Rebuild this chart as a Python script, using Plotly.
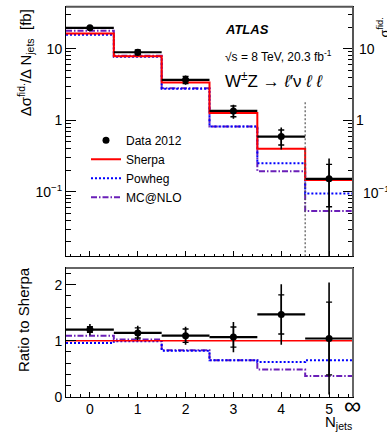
import plotly.graph_objects as go

W, H = 387, 440

# ---------------- data ----------------
bins = [0, 1, 2, 3, 4, 5]
edges = [-0.5, 0.5, 1.5, 2.5, 3.5, 4.5, 5.5]
tick_labels = ["0", "1", "2", "3", "4", "5"]

data = [19.5, 8.9, 3.67, 1.35, 0.59, 0.152]
data_stat = [0.45, 0.7, 0.42, 0.23, 0.14, 0.09]
data_tot = [0.9, 1.0, 0.55, 0.3, 0.2, 0.14]
sherpa = [16.3, 7.8, 3.37, 1.26, 0.40, 0.146]
powheg = [15.6, 7.7, 2.76, 0.82, 0.25, 0.095]
mcnlo = [17.8, 7.95, 2.8, 0.82, 0.194, 0.054]

ratio_data = [1.2, 1.14, 1.09, 1.065, 1.47, 1.04]
ratio_stat = [0.05, 0.09, 0.12, 0.18, 0.35, 0.65]
ratio_tot = [0.1, 0.13, 0.16, 0.27, 0.54, 1.0]
ratio_sherpa = [1, 1, 1, 1, 1, 1]
ratio_powheg = [0.96, 0.99, 0.82, 0.65, 0.62, 0.65]
ratio_mcnlo = [1.09, 1.02, 0.83, 0.65, 0.485, 0.37]

FONT = "Liberation Sans, Arial, Helvetica, sans-serif"
RED = "#ff0000"
BLUE = "#0000ff"
PURPLE = "#6a1fb8"


def px(x):
    return x / W


def py(y):
    return 1 - y / H


def step(v):
    return list(v) + [v[-1]]


fig = go.Figure()

# ---------------- top panel ----------------
fig.add_trace(go.Scatter(x=edges, y=step(mcnlo), mode="lines", line_shape="hv",
                         line=dict(color=PURPLE, width=2, dash="6px,2px,1.5px,2px"),
                         name="MC@NLO", legendrank=4, xaxis="x", yaxis="y"))
fig.add_trace(go.Scatter(x=edges, y=step(powheg), mode="lines", line_shape="hv",
                         line=dict(color=BLUE, width=2, dash="2px,2px"),
                         name="Powheg", legendrank=3, xaxis="x", yaxis="y"))
fig.add_trace(go.Scatter(x=edges, y=step(sherpa), mode="lines", line_shape="hv",
                         line=dict(color=RED, width=2),
                         name="Sherpa", legendrank=2, xaxis="x", yaxis="y"))
fig.add_trace(go.Scatter(x=bins, y=data, mode="markers",
                         marker=dict(size=1, color="black"),
                         error_y=dict(type="data", array=data_tot, width=0, thickness=1.6, color="black"),
                         error_x=dict(type="constant", value=0.5, width=0, thickness=2.2, color="black"),
                         showlegend=False, xaxis="x", yaxis="y"))
fig.add_trace(go.Scatter(x=bins, y=data, mode="markers",
                         marker=dict(size=7, color="black"),
                         error_y=dict(type="data", array=data_stat, width=3, thickness=1.4, color="black"),
                         name="Data 2012", legendrank=1, xaxis="x", yaxis="y"))

# ---------------- ratio panel ----------------
fig.add_trace(go.Scatter(x=edges, y=step(ratio_mcnlo), mode="lines", line_shape="hv",
                         line=dict(color=PURPLE, width=2, dash="6px,2px,1.5px,2px"),
                         showlegend=False, xaxis="x2", yaxis="y2"))
fig.add_trace(go.Scatter(x=edges, y=step(ratio_powheg), mode="lines", line_shape="hv",
                         line=dict(color=BLUE, width=2, dash="2px,2px"),
                         showlegend=False, xaxis="x2", yaxis="y2"))
fig.add_trace(go.Scatter(x=edges, y=step(ratio_sherpa), mode="lines", line_shape="hv",
                         line=dict(color=RED, width=1.5),
                         showlegend=False, xaxis="x2", yaxis="y2"))
fig.add_trace(go.Scatter(x=bins, y=ratio_data, mode="markers",
                         marker=dict(size=1, color="black"),
                         error_y=dict(type="data", array=ratio_tot, width=0, thickness=1.6, color="black"),
                         error_x=dict(type="constant", value=0.5, width=0, thickness=2.2, color="black"),
                         showlegend=False, xaxis="x2", yaxis="y2"))
fig.add_trace(go.Scatter(x=bins, y=ratio_data, mode="markers",
                         marker=dict(size=7, color="black"),
                         error_y=dict(type="data", array=ratio_stat, width=3, thickness=1.4, color="black"),
                         showlegend=False, xaxis="x2", yaxis="y2"))

xdom = [px(66), px(353)]
top_dom = [py(261), py(7)]
bot_dom = [py(404), py(273)]

minor_log = [m * 10 ** e for e in (-2, -1, 0, 1) for m in range(2, 10)]

common_x = dict(domain=xdom, range=[-0.5, 5.5], tickvals=bins, ticks="inside", ticklen=5,
                tickcolor="black", minor=dict(ticks="inside", ticklen=2.5, dtick=0.2, tick0=0,
                                              tickcolor="black"),
                showline=True, linecolor="black", linewidth=1, mirror=True,
                showgrid=False, zeroline=False,
                tickfont=dict(family=FONT, size=14, color="black"))

fig.update_layout(
    width=W, height=H,
    margin=dict(l=0, r=0, t=0, b=0),
    paper_bgcolor="white", plot_bgcolor="white",
    font=dict(family=FONT, color="black", size=13),
    xaxis=dict(common_x, anchor="y", showticklabels=False),
    xaxis2=dict(common_x, anchor="y2", ticktext=tick_labels, showticklabels=True),
    yaxis=dict(domain=top_dom, type="log", range=[-1.9, 1.583], anchor="x",
               tickvals=[0.1, 1, 10], ticktext=["10<sup>−1</sup>", "1", "10"],
               ticks="inside", ticklen=10, tickcolor="black",
               minor=dict(ticks="inside", ticklen=5, tickvals=minor_log, tickcolor="black"),
               showline=True, linecolor="black", linewidth=1, mirror="allticks",
               showgrid=False, zeroline=False,
               tickfont=dict(family=FONT, size=14, color="black")),
    yaxis2=dict(domain=bot_dom, range=[0, 2.3], anchor="x2",
                tickvals=[0, 1, 2], ticks="inside", ticklen=10, tickcolor="black",
                minor=dict(ticks="inside", ticklen=5, dtick=0.2, tick0=0, tickcolor="black"),
                showline=True, linecolor="black", linewidth=1, mirror=True,
                showgrid=False, zeroline=False,
                tickfont=dict(family=FONT, size=14, color="black")),
    legend=dict(x=px(86), y=py(128), xanchor="left", yanchor="top",
                bgcolor="rgba(0,0,0,0)", font=dict(family=FONT, size=12, color="black"),
                tracegroupgap=0, itemwidth=30),
    showlegend=True,
)

shapes = [
    # cut-off line at Njets = 4.5 in the upper panel
    dict(type="line", xref="x", yref="y domain", x0=4.5, x1=4.5, y0=0, y1=0.626,
         line=dict(color="#555555", width=1.2, dash="2px,2px")),
    # grey upper / right frame edges
    dict(type="line", xref="paper", yref="paper", x0=xdom[0], x1=xdom[1], y0=top_dom[1], y1=top_dom[1],
         line=dict(color="#555555", width=2)),
    dict(type="line", xref="paper", yref="paper", x0=xdom[1], x1=xdom[1], y0=top_dom[0], y1=top_dom[1],
         line=dict(color="#555555", width=2)),
    dict(type="line", xref="paper", yref="paper", x0=xdom[0], x1=xdom[1], y0=bot_dom[1], y1=bot_dom[1],
         line=dict(color="#666666", width=2)),
    dict(type="line", xref="paper", yref="paper", x0=xdom[1], x1=xdom[1], y0=bot_dom[0], y1=bot_dom[1],
         line=dict(color="#666666", width=2)),
]
fig.update_layout(shapes=shapes)

ann = []


def A(text, x, y, size=13, xanchor="left", yanchor="middle", angle=0, **kw):
    ann.append(dict(text=text, x=px(x), y=py(y), xref="paper", yref="paper",
                    xanchor=xanchor, yanchor=yanchor, showarrow=False, textangle=angle,
                    font=dict(family=FONT, size=size, color="black"), **kw))


A("<b><i>ATLAS</i></b>", 223, 30, size=13)
A("√s = 8 TeV, 20.3 fb<sup>-1</sup>", 223, 57, size=12)
A("W<sup>±</sup>Z → <i>ℓ</i>′ν <i>ℓ</i> <i>ℓ</i>", 223, 81, size=17)
A("Δσ<sup>fid.</sup>/Δ N<sub>jets</sub>  [fb]", 25, 7, size=15, xanchor="center", yanchor="top", angle=-90)
A("Ratio to Sherpa", 23, 326, size=15, xanchor="center", yanchor="middle", angle=-90)
A("N<sub>jets</sub>", 354, 442, size=15, xanchor="right", yanchor="bottom")
A("∞", 352, 413, size=24, xanchor="center", yanchor="middle")
# fragments of the neighbouring figure at the right edge
A("10", 357, 50, size=14)
A("1", 354, 122, size=14)
A("10<sup>−1</sup>", 361, 196, size=14)
A("σ<sup>fid.</sup>", 384, 28, size=13, xanchor="center", yanchor="middle", angle=-90)

fig.update_layout(annotations=ann)

fig.write_html("out.html")
